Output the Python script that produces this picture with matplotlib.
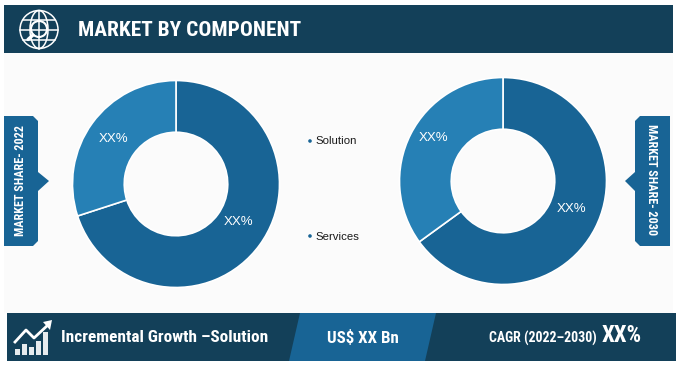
import matplotlib
matplotlib.use("Agg")
import matplotlib.pyplot as plt
from matplotlib.patches import Polygon, Circle, Rectangle, Ellipse

components = ["Solution", "Services"]
share_2022 = [70, 30]
share_2030 = [65, 35]
slice_labels = ["XX%", "XX%"]
title = "MARKET BY COMPONENT"
growth_text = "Incremental Growth \u2013Solution"
value_text = "US$ XX Bn"
cagr_text = "CAGR (2022\u20132030)"
cagr_value = "XX%"

DARK = "#134059"
MID = "#186495"
LIGHT = "#2680B5"
COND = ["Roboto Condensed", "Archivo Narrow", "Roboto", "DejaVu Sans"]
REG = ["Liberation Sans", "DejaVu Sans"]

W, H = 683, 371
fig = plt.figure(figsize=(W / 100, H / 100), dpi=100, facecolor="white")
bg = fig.add_axes([0, 0, 1, 1])
bg.set_xlim(0, W)
bg.set_ylim(H, 0)
bg.axis("off")

# panels
bg.add_patch(Rectangle((4, 53), 669, 260, fc="#FBFBFB", ec="none"))
bg.add_patch(Rectangle((4, 5), 669, 48, fc=DARK, ec="none"))
bg.add_patch(Rectangle((7, 313), 669, 48, fc=DARK, ec="none"))
bg.add_patch(Polygon([(300, 313), (436, 313), (425, 361), (289, 361)], fc=MID, ec="none"))

# side tags
bg.add_patch(Polygon([(4, 116), (33, 116), (38, 121), (38, 172), (49, 181), (38, 191),
                      (38, 241), (33, 246), (4, 246)], fc=MID, ec="none"))
bg.add_patch(Polygon([(670, 116), (640, 116), (635, 121), (635, 172), (625, 181), (635, 191),
                      (635, 241), (640, 246), (670, 246)], fc=MID, ec="none"))
bg.text(21, 180, "MARKET SHARE- 2022", color="white", rotation=90, ha="center", va="center",
        fontsize=8.7, fontweight="bold", family=COND)
bg.text(652, 180, "MARKET SHARE- 2030", color="white", rotation=270, ha="center", va="center",
        fontsize=8.7, fontweight="bold", family=COND)

# header / footer text
bg.text(78, 31, title, color="white", ha="left", va="center", fontsize=15.4,
        fontweight="bold", family=COND)
bg.text(61, 337, growth_text, color="white", ha="left", va="center", fontsize=12.4,
        fontweight="bold", family=COND)
bg.text(363, 338, value_text, color="white", ha="center", va="center", fontsize=12.2,
        fontweight="bold", family=COND)
bg.text(489, 338, cagr_text, color="white", ha="left", va="center", fontsize=10,
        fontweight="bold", family=COND)
bg.text(602, 336, cagr_value, color="white", ha="left", va="center", fontsize=16.5,
        fontweight="bold", family=COND)

# globe icon
lw = 1.1
gc = (39, 29.5)
bg.add_patch(Circle(gc, 19, fc="none", ec="white", lw=lw))
bg.add_patch(Ellipse(gc, 18, 38, fc="none", ec="white", lw=lw))
bg.plot([20, 58], [29.5, 29.5], color="white", lw=lw)
bg.plot([23, 55], [19.5, 19.5], color="white", lw=lw)
bg.plot([23, 55], [39.5, 39.5], color="white", lw=lw)
bg.plot([39, 39], [10.5, 48.5], color="white", lw=lw)
bg.add_patch(Circle((39, 29), 8, fc=DARK, ec="white", lw=1.5))
bg.plot([33, 28], [35, 39.5], color="white", lw=2.4, solid_capstyle="round")

# growth icon
for x0, top_y in zip([15, 22, 29, 36, 43], [349, 344, 347, 341, 332]):
    bg.add_patch(Rectangle((x0, top_y), 5, 355 - top_y, fc="#E6EBEE", ec="none"))
bg.plot([15, 26, 34, 49], [342, 330, 338, 324], color="white", lw=2)
bg.add_patch(Polygon([(52, 320), (43, 322), (50, 330)], fc="white", ec="none"))

# legend
for label, y in zip(components, [141, 236]):
    bg.add_patch(Circle((310, y), 1.8, fc=MID, ec="none"))
    bg.text(315.5, y + 0.5, label, color="#1A1A1A", ha="left", va="center", fontsize=8.2, family=REG)


def donut(cx, cy, r, values):
    ax = fig.add_axes([(cx - r) / W, 1 - (cy + r) / H, 2 * r / W, 2 * r / H])
    ax.pie(values, startangle=90, counterclock=False, colors=[MID, LIGHT], radius=1,
           wedgeprops={"width": 0.5, "edgecolor": "white", "linewidth": 1.2})
    ax.set_xlim(-1, 1)
    ax.set_ylim(-1, 1)
    ax.patch.set_alpha(0)
    return ax


donut(176, 184, 103.5, share_2022)
donut(503, 181, 103.5, share_2030)

# slice labels above the donuts
top = fig.add_axes([0, 0, 1, 1], zorder=5)
top.set_xlim(0, W)
top.set_ylim(H, 0)
top.axis("off")
for text, (x, y) in zip(slice_labels * 2, [(239, 222), (113.5, 139), (571.5, 209), (433.5, 138)]):
    top.text(x, y, text, color="white", ha="center", va="center", fontsize=9.5, family=REG)

fig.savefig("out.png", dpi=100, facecolor="white")
